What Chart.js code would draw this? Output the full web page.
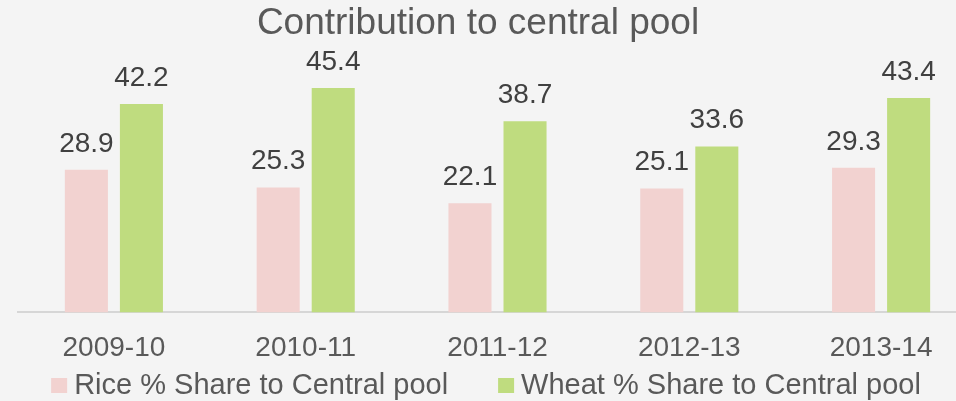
<!DOCTYPE html>
<html>
<head>
<meta charset="utf-8">
<script src="https://cdn.jsdelivr.net/npm/chart.js@4.4.0/dist/chart.umd.min.js"></script>
<style>
    html, body { margin: 0; padding: 0; background: #f4f4f4; overflow: hidden; }
    #caja { width: 956px; height: 401px; position: relative; }
</style>
</head>
<body>
<div id="caja"><canvas id="graficaPool"></canvas></div>
<script>
const anios = ['2009-10', '2010-11', '2011-12', '2012-13', '2013-14'];
const arroz = [28.9, 25.3, 22.1, 25.1, 29.3];
const trigo = [42.2, 45.4, 38.7, 33.6, 43.4];

const fuente = 'Liberation Sans, Arial, sans-serif';

// etiquetas de valor encima de cada barra
const etiquetasValor = {
    id: 'etiquetasValor',
    afterDatasetsDraw(chart) {
        const ctx = chart.ctx;
        ctx.save();
        ctx.font = '28px ' + fuente;
        ctx.fillStyle = '#404040';
        ctx.textAlign = 'center';
        ctx.textBaseline = 'alphabetic';
        chart.data.datasets.forEach((ds, i) => {
            chart.getDatasetMeta(i).data.forEach((barra, j) => {
                ctx.fillText(ds.data[j].toFixed(1), barra.x, barra.y - 18);
            });
        });
        ctx.restore();
    }
};

// el área de dibujo original sigue más allá del borde derecho (imagen recortada)
const areaRecortada = {
    id: 'areaRecortada',
    afterLayout(chart) {
        const x = chart.scales.x;
        x.left = 18;
        x.right = 977;
        x.width = x.right - x.left;
        x.configure();
        chart.chartArea.left = x.left;
        chart.chartArea.right = x.right;
        chart.chartArea.width = x.width;
    }
};

// leyenda propia, con el cuadro pegado al texto
const leyenda = {
    id: 'leyenda',
    afterDraw(chart) {
        const ctx = chart.ctx;
        ctx.save();
        ctx.font = '29px ' + fuente;
        ctx.textBaseline = 'alphabetic';
        ctx.textAlign = 'left';
        const caja = 16, hueco = 7, separacion = 50;
        const anchos = chart.data.datasets.map(ds => caja + hueco + ctx.measureText(ds.label).width);
        const total = anchos.reduce((a, b) => a + b, 0) + separacion * (anchos.length - 1);
        let x = 486 - total / 2;
        const base = 394;
        chart.data.datasets.forEach((ds, i) => {
            ctx.fillStyle = ds.backgroundColor;
            ctx.fillRect(x, base - 16, caja, 15);
            ctx.fillStyle = '#595959';
            ctx.fillText(ds.label, x + caja + hueco, base);
            x += anchos[i] + separacion;
        });
        ctx.restore();
    }
};

const ctx = document.getElementById('graficaPool').getContext('2d');
new Chart(ctx, {
    type: 'bar',
    data: {
        labels: anios,
        datasets: [{
            label: 'Rice % Share to Central pool',
            data: arroz,
            backgroundColor: '#f2d2d0',
            categoryPercentage: 0.574,
            barPercentage: 0.782
        }, {
            label: 'Wheat % Share to Central pool',
            data: trigo,
            backgroundColor: '#bfdc7f',
            categoryPercentage: 0.574,
            barPercentage: 0.782
        }]
    },
    options: {
        responsive: true,
        maintainAspectRatio: false,
        animation: false,
        layout: {
            padding: { left: 0, right: 0, top: 0, bottom: 17 }
        },
        plugins: {
            title: {
                display: true,
                text: 'Contribution to central pool',
                color: '#595959',
                font: { family: fuente, size: 37, weight: 'normal' },
                padding: { top: 2, bottom: 19 }
            },
            legend: { display: false },
            tooltip: { enabled: false }
        },
        scales: {
            x: {
                grid: { display: false, drawTicks: false },
                border: { color: '#d6d6d6', width: 2 },
                ticks: {
                    color: '#595959',
                    font: { family: fuente, size: 28 },
                    padding: 19,
                    maxRotation: 0
                }
            },
            y: {
                display: false,
                min: 0,
                max: 50
            }
        }
    },
    plugins: [areaRecortada, etiquetasValor, leyenda]
});
</script>
</body>
</html>
